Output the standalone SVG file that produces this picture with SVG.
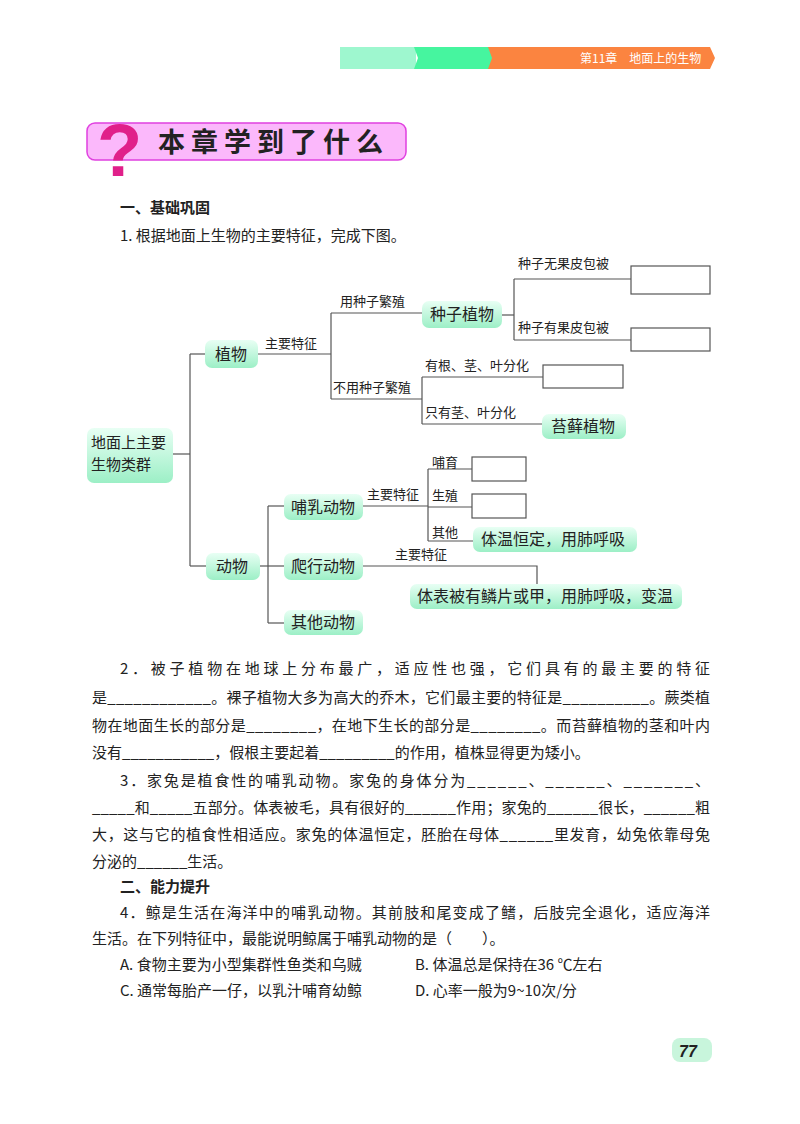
<svg xmlns="http://www.w3.org/2000/svg" width="800" height="1124" viewBox="0 0 800 1124">
<style>
text{font-family:"Noto Sans CJK SC","Liberation Sans",sans-serif;fill:#222}
.p{font-size:15px}
.l{font-size:13px}
.n{font-size:16px}
.c line,.c polyline{stroke:#555;stroke-width:1.2;fill:none}
.box{fill:#fff;stroke:#555;stroke-width:1.2}
.node{fill:url(#g)}
</style>
<defs>
<linearGradient id="g" x1="0" y1="0" x2="0" y2="1"><stop offset="0" stop-color="#e8fff4"/><stop offset="1" stop-color="#9cefc6"/></linearGradient>
</defs>
<g id="header">
<rect x="340" y="47" width="76" height="22" fill="#9ef7cf"/>
<polygon points="414,47 490,47 494,58 490,69 414,69 418,58" fill="#46f59f"/>
<polygon points="488,47 710,47 715,58 710,69 488,69 492,58" fill="#fb8440"/>
<text x="580" y="63" style="font-size:12px;fill:#fff">第11章　地面上的生物</text>
</g>
<g id="title">
<rect x="87" y="123" width="319" height="37" rx="8" fill="#fbb8fb" stroke="#e040e0" stroke-width="1.5"/>
<text x="97" y="176" style="font-size:74px;font-weight:bold;fill:#e0208a;font-family:'Liberation Sans',sans-serif">?</text>
<text x="158" y="152" style="font-size:27px;font-weight:bold;letter-spacing:6px">本章学到了什么</text>
</g>
<text x="120" y="213" class="p" style="font-weight:bold">一、基础巩固</text>
<text x="120" y="241" class="p">1. 根据地面上生物的主要特征，完成下图。</text>
<g id="connectors" class="c">
<line x1="173" y1="454" x2="190" y2="454"/>
<line x1="190" y1="354" x2="190" y2="566"/>
<line x1="190" y1="354" x2="205" y2="354"/>
<line x1="190" y1="566" x2="206" y2="566"/>
<line x1="258" y1="354" x2="331" y2="354"/>
<line x1="331" y1="313" x2="331" y2="399"/>
<line x1="331" y1="313" x2="423" y2="313"/>
<line x1="331" y1="399" x2="422" y2="399"/>
<line x1="422" y1="377" x2="422" y2="424"/>
<line x1="422" y1="377" x2="543" y2="377"/>
<line x1="422" y1="424" x2="542" y2="424"/>
<line x1="502" y1="315" x2="514" y2="315"/>
<line x1="514" y1="279" x2="514" y2="340"/>
<line x1="514" y1="279" x2="631" y2="279"/>
<line x1="514" y1="340" x2="631" y2="340"/>
<line x1="260" y1="566" x2="268" y2="566"/>
<line x1="268" y1="506" x2="268" y2="623"/>
<line x1="268" y1="506" x2="284" y2="506"/>
<line x1="268" y1="566" x2="284" y2="566"/>
<line x1="268" y1="623" x2="284" y2="623"/>
<line x1="363" y1="506" x2="428" y2="506"/>
<line x1="428" y1="469" x2="428" y2="541"/>
<line x1="428" y1="469" x2="472" y2="469"/>
<line x1="428" y1="507" x2="472" y2="507"/>
<line x1="428" y1="541" x2="473" y2="541"/>
<polyline points="363,566 537,566 537,584"/>
</g>
<g id="labels" class="l">
<text x="265" y="348">主要特征</text>
<text x="340" y="306">用种子繁殖</text>
<text x="333" y="392">不用种子繁殖</text>
<text x="425" y="370">有根、茎、叶分化</text>
<text x="425" y="417">只有茎、叶分化</text>
<text x="518" y="268">种子无果皮包被</text>
<text x="518" y="332">种子有果皮包被</text>
<text x="367" y="499">主要特征</text>
<text x="432" y="467">哺育</text>
<text x="432" y="500">生殖</text>
<text x="432" y="537">其他</text>
<text x="395" y="559">主要特征</text>
</g>
<g id="boxes">
<rect class="box" x="631" y="266" width="79" height="28"/>
<rect class="box" x="631" y="328" width="79" height="23"/>
<rect class="box" x="543" y="365" width="80" height="23"/>
<rect class="box" x="472" y="457" width="54" height="24"/>
<rect class="box" x="472" y="494" width="54" height="24"/>
</g>
<g id="n-root"><rect class="node" x="87" y="428" width="86" height="55" rx="7"/><text class="p" x="91" y="448">地面上主要</text><text class="p" x="91" y="470">生物类群</text></g>
<g id="n-plant"><rect class="node" x="205" y="340" width="53" height="28" rx="7"/><text class="n" x="215" y="360">植物</text></g>
<g id="n-seed"><rect class="node" x="422" y="301" width="80" height="27" rx="7"/><text class="n" x="430" y="320">种子植物</text></g>
<g id="n-moss"><rect class="node" x="542" y="414" width="84" height="25" rx="7"/><text class="n" x="551" y="432">苔藓植物</text></g>
<g id="n-animal"><rect class="node" x="206" y="553" width="54" height="27" rx="7"/><text class="n" x="216" y="572">动物</text></g>
<g id="n-mammal"><rect class="node" x="284" y="494" width="79" height="26" rx="7"/><text class="n" x="291" y="513">哺乳动物</text></g>
<g id="n-reptile"><rect class="node" x="284" y="553" width="79" height="27" rx="7"/><text class="n" x="291" y="572">爬行动物</text></g>
<g id="n-other"><rect class="node" x="284" y="610" width="79" height="25" rx="7"/><text class="n" x="291" y="628">其他动物</text></g>
<g id="n-warm"><rect class="node" x="473" y="527" width="164" height="25" rx="7"/><text class="n" x="481" y="545">体温恒定，用肺呼吸</text></g>
<g id="n-scale"><rect class="node" x="410" y="584" width="272" height="25" rx="7"/><text class="n" x="417" y="602">体表被有鳞片或甲，用肺呼吸，变温</text></g>
<g id="text" class="p">
<text x="120" y="674" textLength="590" lengthAdjust="spacing">2．被子植物在地球上分布最广，适应性也强，它们具有的最主要的特征</text>
<text x="92" y="703" textLength="618" lengthAdjust="spacing">是____________。裸子植物大多为高大的乔木，它们最主要的特征是__________。蕨类植</text>
<text x="92" y="731" textLength="618" lengthAdjust="spacing">物在地面生长的部分是________，在地下生长的部分是________。而苔藓植物的茎和叶内</text>
<text x="92" y="758">没有___________，假根主要起着_________的作用，植株显得更为矮小。</text>
<text x="120" y="786" textLength="590" lengthAdjust="spacing">3．家兔是植食性的哺乳动物。家兔的身体分为______、______、_______、</text>
<text x="92" y="813" textLength="618" lengthAdjust="spacing">_____和_____五部分。体表被毛，具有很好的______作用；家兔的______很长，______粗</text>
<text x="92" y="840" textLength="618" lengthAdjust="spacing">大，这与它的植食性相适应。家兔的体温恒定，胚胎在母体______里发育，幼兔依靠母兔</text>
<text x="92" y="867">分泌的______生活。</text>
<text x="120" y="892" style="font-weight:bold">二、能力提升</text>
<text x="120" y="918" textLength="590" lengthAdjust="spacing">4．鲸是生活在海洋中的哺乳动物。其前肢和尾变成了鳍，后肢完全退化，适应海洋</text>
<text x="92" y="944">生活。在下列特征中，最能说明鲸属于哺乳动物的是（　　）。</text>
<text x="120" y="970">A. 食物主要为小型集群性鱼类和乌贼</text>
<text x="415" y="970">B. 体温总是保持在36 ℃左右</text>
<text x="120" y="996">C. 通常每胎产一仔，以乳汁哺育幼鲸</text>
<text x="415" y="996">D. 心率一般为9~10次/分</text>
</g>
<g id="page"><rect x="672" y="1038" width="40" height="24" rx="8" fill="#c8f5dc"/><text x="679" y="1057" style="font-size:16px;font-style:italic;font-weight:bold;font-family:'Liberation Sans',sans-serif">77</text></g>
</svg>
